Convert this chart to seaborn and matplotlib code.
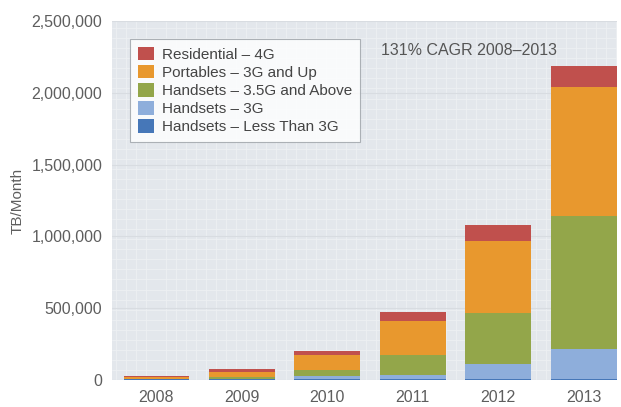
import matplotlib
matplotlib.use("Agg")
import matplotlib.pyplot as plt
from matplotlib.ticker import MultipleLocator, FuncFormatter
from matplotlib.patches import Patch
import numpy as np
import pandas as pd
import seaborn as sns

# ---- data (TB/month) ----
years = ["2008", "2009", "2010", "2011", "2012", "2013"]
handsets_lt3g = [4000, 4000, 6000, 8000, 10000, 10000]
handsets_3g = [2000, 4000, 22000, 27000, 102000, 207000]
handsets_35g = [4000, 15000, 42000, 140000, 358000, 926000]
portables = [12000, 35000, 105000, 234000, 498000, 898000]
residential_4g = [3000, 17000, 28000, 63000, 112000, 147000]

series_names = [
    "Handsets \u2013 Less Than 3G",
    "Handsets \u2013 3G",
    "Handsets \u2013 3.5G and Above",
    "Portables \u2013 3G and Up",
    "Residential \u2013 4G",
]
series_values = [handsets_lt3g, handsets_3g, handsets_35g, portables, residential_4g]
series_colors = ["#4677B8", "#8EAEDB", "#93A64A", "#E8982E", "#C0504D"]

y_ticks = [0, 500000, 1000000, 1500000, 2000000, 2500000]
annotation = "131% CAGR 2008\u20132013"
y_label = "TB/Month"

# ---- figure ----
sns.set_theme(style="white")
plt.rcParams["font.family"] = ["Liberation Sans", "DejaVu Sans"]

W, H = 621, 407
fig = plt.figure(figsize=(W / 100, H / 100), dpi=100)
ax = fig.add_axes([112 / W, (H - 380) / H, 505 / W, 359 / H])
ax.set_facecolor("#E3E7EC")

# cumulative stacks
cum = np.zeros(len(years))
cums = []
for vals in series_values:
    cum = cum + np.array(vals, dtype=float)
    cums.append(cum.copy())

# draw from the tallest stack down so lower layers overlay
for name, c, col in reversed(list(zip(series_names, cums, series_colors))):
    d = pd.DataFrame({"year": years, "value": c})
    sns.barplot(data=d, x="year", y="value", color=col, width=0.77,
                saturation=1, ax=ax, zorder=3, linewidth=0, edgecolor="none")

ax.set_xlim(-0.52, 5.39)
ax.set_ylim(0, 2500000)
ax.set_yticks(y_ticks)
ax.yaxis.set_major_formatter(FuncFormatter(lambda v, p: f"{int(v):,}"))

# fine grid
ax.xaxis.set_minor_locator(MultipleLocator(0.117))
ax.yaxis.set_minor_locator(MultipleLocator(70000))
ax.grid(which="minor", color="#EDF0F3", linewidth=0.6, zorder=0)
ax.grid(which="major", axis="y", color="#D8DCE1", linewidth=0.8, zorder=0)
ax.grid(which="major", axis="x", visible=False)
ax.set_axisbelow(True)

for s in ax.spines.values():
    s.set_visible(False)
ax.tick_params(axis="both", which="both", length=0)
ax.tick_params(axis="y", pad=7, labelsize=11.5, labelcolor="#5E5E5E")
ax.tick_params(axis="x", pad=7, labelsize=11.5, labelcolor="#5E5E5E")

ax.set_xlabel("")
ax.set_ylabel(y_label, fontsize=11, color="#5E5E5E")
ax.yaxis.set_label_coords(-0.174, 0.5)

ax.text(0.533, 0.919, annotation, transform=ax.transAxes, fontsize=11.5,
        color="#555555", va="center", ha="left")

handles = [Patch(facecolor=col, edgecolor="none", label=n)
           for n, col in zip(series_names, series_colors)]
handles = handles[::-1]
leg = ax.legend(handles=handles, loc="upper left",
                bbox_to_anchor=(0.036, 0.95), borderaxespad=0,
                fontsize=11, frameon=True, fancybox=False,
                handlelength=1.05, handleheight=1.0, handletextpad=0.55,
                labelspacing=0.2, borderpad=0.5)
leg.get_frame().set_facecolor("white")
leg.get_frame().set_edgecolor("#9AA0A6")
leg.get_frame().set_linewidth(0.8)
for t in leg.get_texts():
    t.set_color("#444444")
leg.set_zorder(5)

fig.savefig("out.png", dpi=100)
